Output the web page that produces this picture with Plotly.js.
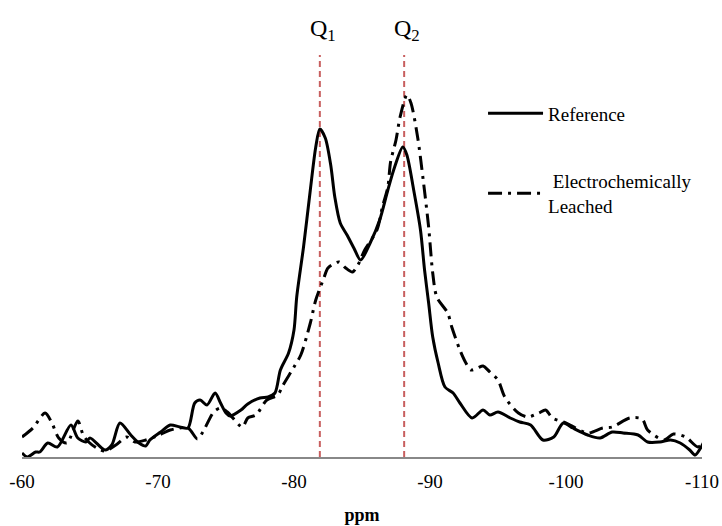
<!DOCTYPE html>
<html>
<head>
<meta charset="utf-8">
<script src="https://cdn.plot.ly/plotly-3.0.1.min.js"></script>
<style>html,body{margin:0;padding:0;background:#fff;}#chart{width:722px;height:526px;}</style>
</head>
<body>
<div id="chart"></div>
<script>
// Chemical shift (ppm) and intensity (arbitrary units)
const refPpm = [-60.0,-60.4,-61.0,-61.3,-61.9,-62.6,-63.6,-64.1,-64.7,-65.0,-66.1,-66.6,-67.2,-68.0,-68.6,-69.1,-69.4,-70.2,-70.9,-71.6,-72.2,-72.7,-73.1,-73.6,-74.2,-74.6,-75.0,-75.3,-76.1,-76.6,-77.5,-78.1,-78.6,-79.0,-79.6,-80.0,-80.2,-80.7,-81.2,-81.6,-81.9,-82.3,-82.7,-83.0,-83.4,-83.9,-84.4,-84.9,-85.6,-86.3,-86.9,-87.4,-88.0,-88.3,-88.8,-89.3,-89.6,-89.9,-90.2,-90.6,-91.1,-91.7,-92.2,-93.1,-93.9,-94.4,-95.0,-95.9,-96.6,-97.4,-98.3,-99.1,-99.8,-100.5,-101.6,-102.5,-103.4,-104.2,-105.3,-106.0,-106.9,-107.7,-108.4,-109.1,-109.5,-109.9,-110.1];
const refInt = [0.4,0.0,0.5,0.5,1.4,1.0,3.2,1.9,1.5,1.9,0.7,1.2,3.4,2.2,1.4,1.1,1.7,2.5,3.2,3.0,2.9,5.4,5.7,5.2,6.4,5.4,4.4,4.1,4.7,5.3,5.9,6.0,6.4,8.7,10.4,12.7,16.0,21.0,26.7,31.0,32.8,31.9,29.2,26.0,23.4,22.2,20.9,19.7,21.4,23.7,26.7,29.0,31.0,30.2,26.7,22.7,18.7,15.4,12.0,9.4,7.0,6.4,5.4,3.9,4.7,4.2,4.5,3.9,3.5,3.2,1.7,2.0,3.4,2.9,2.2,1.9,2.5,2.4,2.2,1.5,1.5,1.7,1.4,0.7,0.2,0.9,1.4];

const leachPpm = [-60.0,-60.8,-61.7,-62.2,-62.7,-63.3,-64.1,-64.5,-64.9,-65.5,-66.1,-66.9,-67.7,-68.3,-69.1,-70.1,-70.9,-72.2,-72.9,-73.3,-74.1,-74.6,-75.1,-76.2,-76.6,-77.2,-78.0,-78.8,-79.2,-80.0,-80.5,-81.2,-81.6,-82.2,-82.5,-83.3,-83.8,-84.3,-84.7,-85.2,-86.1,-86.5,-86.9,-87.1,-87.5,-87.8,-88.3,-88.6,-89.1,-89.5,-89.9,-90.2,-90.5,-91.3,-91.6,-92.2,-92.6,-93.0,-93.5,-93.9,-94.4,-95.0,-95.5,-96.5,-97.2,-98.0,-98.5,-99.0,-99.8,-100.3,-101.6,-102.7,-103.4,-104.7,-105.6,-106.0,-107.2,-107.9,-108.8,-109.7,-110.1];
const leachInt = [2.0,2.9,4.4,3.4,1.9,1.4,3.6,2.2,1.5,0.9,0.6,1.2,2.0,1.5,1.7,2.2,2.7,2.9,1.8,2.5,4.5,4.9,4.5,3.0,3.9,4.2,5.7,6.2,7.2,9.0,10.2,13.4,15.7,17.9,18.9,19.5,18.9,18.5,19.2,20.7,22.7,25.0,27.0,29.5,31.7,34.0,36.2,35.4,31.9,27.7,23.0,18.4,16.0,14.4,13.0,10.7,9.5,8.7,8.9,9.1,8.5,7.7,6.0,4.4,4.0,4.4,4.7,3.9,3.5,3.2,2.4,2.9,3.0,3.9,3.8,2.7,1.7,2.3,2.0,1.0,1.4];

const seriesNames = ['Reference', ' Electrochemically<br>Leached'];
const peakPpm = [-81.9, -88.1];
const peakLabels = ['Q<sub>1</sub>', 'Q<sub>2</sub>'];
const xTicks = [-60, -70, -80, -90, -100, -110];
const xTickLabels = ['-60', '-70', '-80', '-90', '-100', '-110'];

const serif = "'Liberation Serif', 'Times New Roman', Times, serif";

const traces = [
  {x: refPpm, y: refInt, name: seriesNames[0], type: 'scatter', mode: 'lines',
   line: {color: '#000', width: 3, shape: 'spline', smoothing: 0.8}, legendgroup: 'a'},
  {x: leachPpm, y: leachInt, name: seriesNames[1], type: 'scatter', mode: 'lines',
   line: {color: '#000', width: 3, shape: 'spline', smoothing: 0.8, dash: '14px,6px,3px,6px'}, legendgroup: 'b'}
];

const shapes = peakPpm.map(p => ({type: 'line', xref: 'x', yref: 'y', x0: p, x1: p, y0: 0, y1: 40.2,
  line: {color: 'rgb(200,95,95)', width: 2, dash: '6px,4px'}, layer: 'below'}));

const annotations = peakPpm.map((p, i) => ({x: p, y: 42.7, xref: 'x', yref: 'y', text: peakLabels[i],
  showarrow: false, xanchor: 'center', yanchor: 'middle', xshift: 3,
  font: {family: serif, size: 24, color: '#000'}}));

const layout = {
  width: 722, height: 526,
  margin: {l: 21.7, r: 20.3, t: 20, b: 69},
  paper_bgcolor: '#fff', plot_bgcolor: '#fff',
  showlegend: true,
  legend: {x: 0.678, y: 0.83, xanchor: 'left', yanchor: 'top', bgcolor: 'rgba(0,0,0,0)',
    font: {family: serif, size: 19, color: '#000'}, itemwidth: 55, tracegroupgap: 40,
    traceorder: 'grouped'},
  xaxis: {range: [-60, -110], tickvals: xTicks, ticktext: xTickLabels, showgrid: false, zeroline: false,
    showline: true, linecolor: '#888', linewidth: 2, ticks: '', ticklabelstandoff: 6,
    tickfont: {family: serif, size: 19, color: '#000'},
    title: {text: '<b>ppm</b>', font: {family: serif, size: 18, color: '#000'}, standoff: 18}},
  yaxis: {range: [0, 43.7], visible: false, showgrid: false, zeroline: false},
  shapes: shapes,
  annotations: annotations
};

Plotly.newPlot('chart', traces, layout, {displayModeBar: false, staticPlot: true});
</script>
</body>
</html>
